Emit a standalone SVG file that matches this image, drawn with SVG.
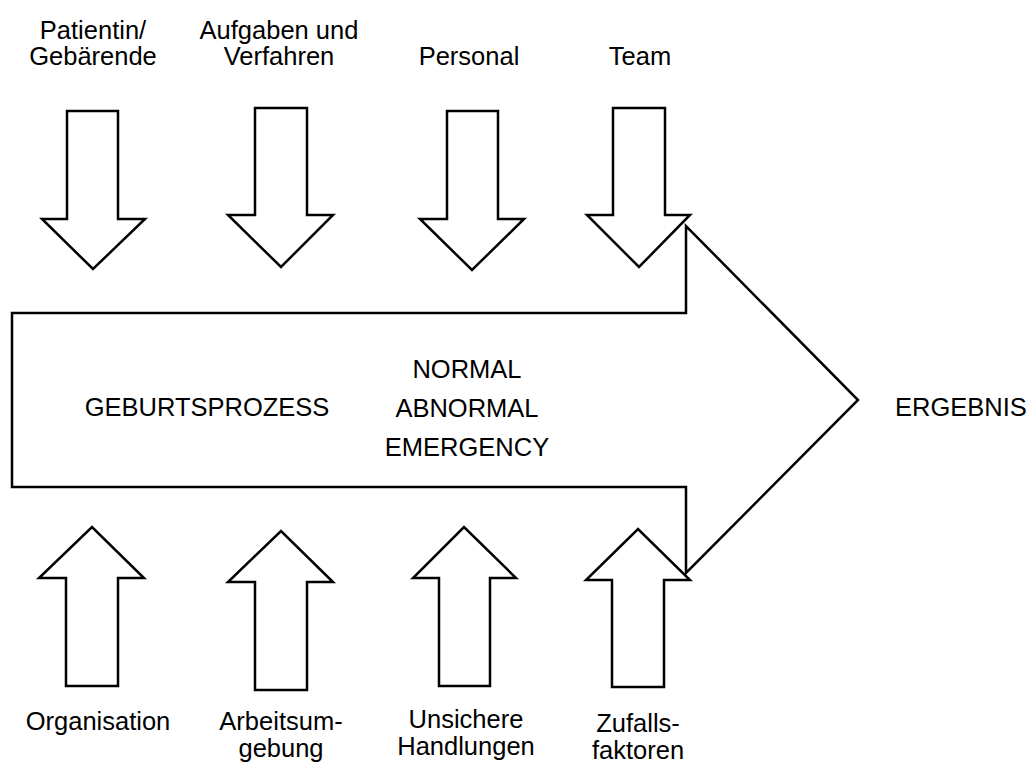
<svg xmlns="http://www.w3.org/2000/svg" width="1032" height="767" viewBox="0 0 1032 767">
<style>
.sh{fill:#fff;stroke:#000;stroke-width:2.5;stroke-linejoin:miter}
.t{font-family:"Liberation Sans",Arial,sans-serif;font-size:25.5px;fill:#000;text-anchor:middle}
</style>
<rect width="1032" height="767" fill="#fff"/>
<g id="process">
<polygon class="sh" points="12,313 686,313 686,226 858,400 686,573 686,487 12,487"/>
<text class="t" x="207" y="416">GEBURTSPROZESS</text>
<text class="t" x="467" y="378">NORMAL</text>
<text class="t" x="467" y="417">ABNORMAL</text>
<text class="t" x="467" y="456">EMERGENCY</text>
</g>
<g id="ergebnis"><text class="t" x="961" y="416">ERGEBNIS</text></g>
<g id="connectors">
<g id="patientin">
<polygon class="sh" points="67,111 118,111 118,219 145,219 93,269 42,219 67,219"/>
<text class="t" x="93" y="39">Patientin/</text><text class="t" x="93" y="65">Gebärende</text>
</g>
<g id="aufgaben">
<polygon class="sh" points="255,108 307,108 307,215 333,215 281,267 228,215 255,215"/>
<text class="t" x="279" y="39">Aufgaben und</text><text class="t" x="279" y="65">Verfahren</text>
</g>
<g id="personal">
<polygon class="sh" points="447,111 498,111 498,219 524,219 472,270 420,219 447,219"/>
<text class="t" x="469" y="65">Personal</text>
</g>
<g id="team">
<polygon class="sh" points="613,108 665,108 665,215 690,215 639,267 587,215 613,215"/>
<text class="t" x="640" y="65">Team</text>
</g>
<g id="organisation">
<polygon class="sh" points="66,686 118,686 118,578 144,578 92,527 39,578 66,578"/>
<text class="t" x="98" y="730">Organisation</text>
</g>
<g id="arbeitsumgebung">
<polygon class="sh" points="255,690 307,690 307,582 333,582 281,531 228,582 255,582"/>
<text class="t" x="281" y="730">Arbeitsum-</text><text class="t" x="281" y="757">gebung</text>
</g>
<g id="unsichere">
<polygon class="sh" points="439,686 490,686 490,578 516,578 464,527 413,578 439,578"/>
<text class="t" x="466" y="728">Unsichere</text><text class="t" x="466" y="755">Handlungen</text>
</g>
<g id="zufall">
<polygon class="sh" points="612,687 664,687 664,580 690,580 638,529 586,580 612,580"/>
<text class="t" x="638" y="732">Zufalls-</text><text class="t" x="638" y="759">faktoren</text>
</g>
</g>
</svg>
